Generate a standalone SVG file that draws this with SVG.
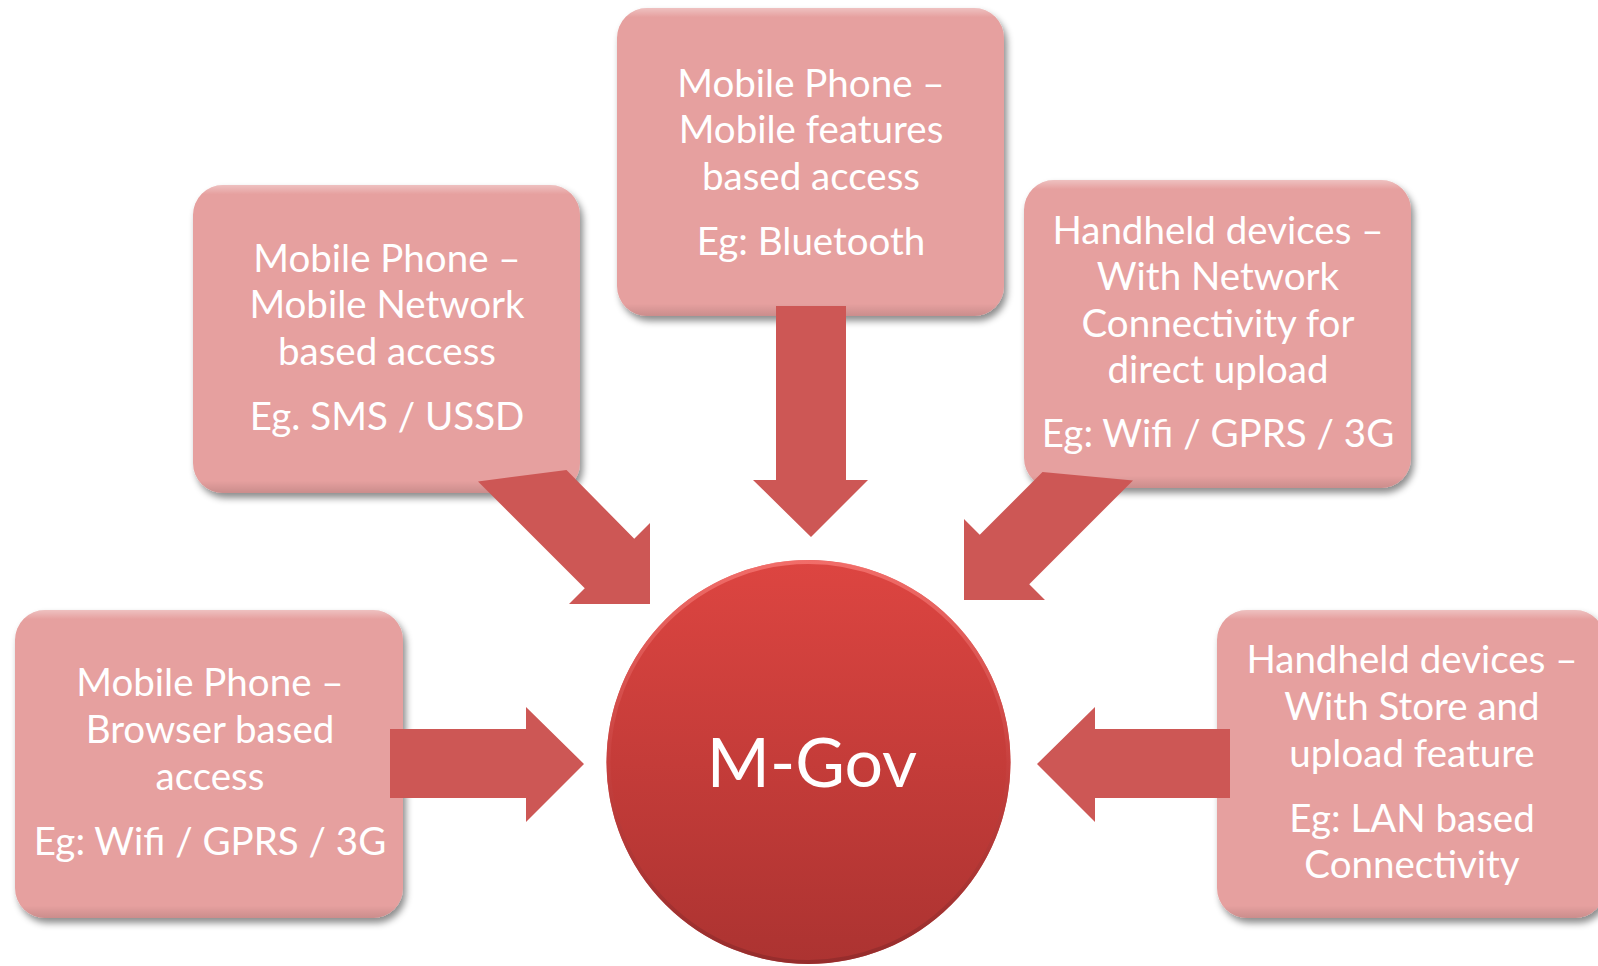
<svg xmlns="http://www.w3.org/2000/svg" width="1598" height="966" viewBox="0 0 1598 966">
  <defs>
    <filter id="boxShadow" x="-10%" y="-10%" width="125%" height="130%">
      <feDropShadow dx="3" dy="5" stdDeviation="3.5" flood-color="#000" flood-opacity="0.45"/>
    </filter>
    <linearGradient id="boxBevel" x1="0" y1="0" x2="0" y2="1">
      <stop offset="0" stop-color="#fff" stop-opacity="0.35"/>
      <stop offset="0.03" stop-color="#fff" stop-opacity="0"/>
      <stop offset="0.96" stop-color="#000" stop-opacity="0"/>
      <stop offset="1" stop-color="#000" stop-opacity="0.12"/>
    </linearGradient>
    <linearGradient id="circleFill" x1="0" y1="0" x2="0" y2="1">
      <stop offset="0" stop-color="#DD4541"/>
      <stop offset="1" stop-color="#AC3331"/>
    </linearGradient>
    <linearGradient id="circleRim" x1="0" y1="0" x2="0" y2="1">
      <stop offset="0" stop-color="#F87A76"/>
      <stop offset="0.5" stop-color="#C84240"/>
      <stop offset="1" stop-color="#8E2A2A"/>
    </linearGradient>
  </defs>
  <style>
    .box { fill: #E6A09F; filter: url(#boxShadow); }
    .bevel { fill: url(#boxBevel); }
    .lbl { font-family: Lato, "Liberation Sans", sans-serif; font-size: 38.5px; fill: #ffffff; text-anchor: middle; }
    .arrow { fill: #CD5755; }
    .hub { font-family: Lato, "Liberation Sans", sans-serif; font-size: 68px; fill: #ffffff; text-anchor: middle; }
  </style>
  <rect width="1598" height="966" fill="#ffffff"/>

  <g id="node-features">
    <rect class="box" x="617" y="8" width="387" height="308" rx="30"/>
    <rect class="bevel" x="617" y="8" width="387" height="308" rx="30"/>
    <text class="lbl" x="811" y="97">Mobile Phone –</text>
    <text class="lbl" x="811" y="143">Mobile features</text>
    <text class="lbl" x="811" y="190">based access</text>
    <text class="lbl" x="811" y="255">Eg: Bluetooth</text>
  </g>

  <g id="node-network">
    <rect class="box" x="193" y="185" width="387" height="308" rx="30"/>
    <rect class="bevel" x="193" y="185" width="387" height="308" rx="30"/>
    <text class="lbl" x="387" y="272">Mobile Phone –</text>
    <text class="lbl" x="387" y="318">Mobile Network</text>
    <text class="lbl" x="387" y="365">based access</text>
    <text class="lbl" x="387" y="430">Eg. SMS / USSD</text>
  </g>

  <g id="node-handheld-network">
    <rect class="box" x="1024" y="180" width="387" height="308" rx="30"/>
    <rect class="bevel" x="1024" y="180" width="387" height="308" rx="30"/>
    <text class="lbl" x="1218" y="244">Handheld devices –</text>
    <text class="lbl" x="1218" y="290">With Network</text>
    <text class="lbl" x="1218" y="337">Connectivity for</text>
    <text class="lbl" x="1218" y="383">direct upload</text>
    <text class="lbl" x="1218" y="447">Eg: Wifi / GPRS / 3G</text>
  </g>

  <g id="node-browser">
    <rect class="box" x="15" y="610" width="388" height="308" rx="30"/>
    <rect class="bevel" x="15" y="610" width="388" height="308" rx="30"/>
    <text class="lbl" x="210" y="696">Mobile Phone –</text>
    <text class="lbl" x="210" y="743">Browser based</text>
    <text class="lbl" x="210" y="790">access</text>
    <text class="lbl" x="210" y="855">Eg: Wifi / GPRS / 3G</text>
  </g>

  <g id="node-store-upload">
    <rect class="box" x="1217" y="610" width="388" height="308" rx="30"/>
    <rect class="bevel" x="1217" y="610" width="388" height="308" rx="30"/>
    <text class="lbl" x="1412" y="673">Handheld devices –</text>
    <text class="lbl" x="1412" y="720">With Store and</text>
    <text class="lbl" x="1412" y="767">upload feature</text>
    <text class="lbl" x="1412" y="832">Eg: LAN based</text>
    <text class="lbl" x="1412" y="878">Connectivity</text>
  </g>

  <g id="connectors">
    <polygon class="arrow" points="776,306 846,306 846,480 868,480 811,537 753,480 776,480"/>
    <polygon class="arrow" points="478,481.5 566.5,470 634.25,538.75 650,523 650,604 569,604 584.75,588.25"/>
    <polygon class="arrow" points="1042.5,472 1133,480.5 1029.25,584.25 1045,600 964,600 964,519 979.75,534.75"/>
    <polygon class="arrow" points="390,729 526,729 526,707 584,764 526,822 526,798 390,798"/>
    <polygon class="arrow" points="1230,729 1095,729 1095,707 1037,764 1095,822 1095,798 1230,798"/>
  </g>

  <g id="node-mgov">
    <circle cx="808.5" cy="762" r="202" fill="url(#circleFill)"/>
    <circle cx="808.5" cy="762" r="200" fill="none" stroke="url(#circleRim)" stroke-width="4" opacity="0.75"/>
    <text class="hub" x="812" y="787">M-Gov</text>
  </g>
</svg>
